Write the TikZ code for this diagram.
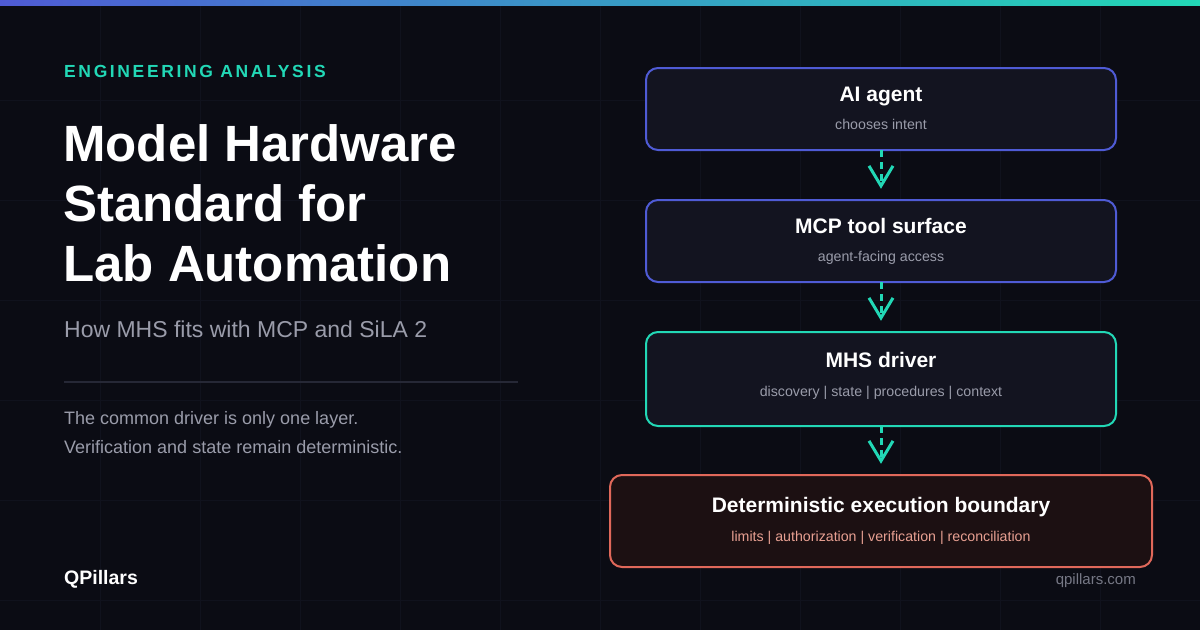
\documentclass[tikz,border=0pt]{standalone}
\usepackage{fontspec}
\setmainfont{Liberation Sans}
\usetikzlibrary{arrows.meta}
\definecolor{bg}{HTML}{0B0C14}
\definecolor{gridc}{HTML}{10121D}
\definecolor{blu}{HTML}{4F5BD5}
\definecolor{teal}{HTML}{22D8B6}
\definecolor{redb}{HTML}{E0685A}
\definecolor{boxf}{HTML}{131420}
\definecolor{redf}{HTML}{1C1012}
\definecolor{subg}{HTML}{9A9CAA}
\definecolor{redt}{HTML}{E8A092}
\definecolor{divc}{HTML}{262836}
\begin{document}
\begin{tikzpicture}[x=1pt,y=-1pt,
  every node/.style={inner sep=0pt},
  box/.style={draw,line width=2pt,rounded corners=12pt,fill=boxf},
  ttl/.style={text=white,font=\bfseries\fontsize{21}{24}\selectfont,anchor=base},
  sub/.style={text=subg,font=\fontsize{14.2}{17}\selectfont,anchor=base},
  flow/.style={draw=teal,line width=3pt,dash pattern=on 7pt off 5pt,shorten >=11pt,
    -{Straight Barb[length=20pt,width=24pt,line width=3pt]}}]
\useasboundingbox (0,0) rectangle (1200,630);
\fill[bg] (0,0) rectangle (1200,630);
\foreach \x in {100,200,...,1100} \draw[gridc,line width=1pt] (\x,0) -- (\x,630);
\foreach \y in {100,200,...,600} \draw[gridc,line width=1pt] (0,\y) -- (1200,\y);
\shade[left color=blu,right color=teal] (0,0) rectangle (1200,5);
% left text
\node[anchor=base west,text=teal,font=\bfseries\fontsize{17.5}{20}\selectfont\addfontfeature{LetterSpace=15}] (eyebrow) at (64,77) {ENGINEERING ANALYSIS};
\node[anchor=base west,text=white,font=\bfseries\fontsize{51}{60}\selectfont] (t1) at (63,161) {Model Hardware};
\node[anchor=base west,text=white,font=\bfseries\fontsize{51}{60}\selectfont] (t2) at (63,221) {Standard for};
\node[anchor=base west,text=white,font=\bfseries\fontsize{51}{60}\selectfont] (t3) at (63,281) {Lab Automation};
\node[anchor=base west,text=subg,font=\fontsize{23}{26}\selectfont] (st) at (64,337) {How MHS fits with MCP and SiLA 2};
\coordinate (d1) at (64,382); \coordinate (d2) at (518,382);
\draw[divc,line width=2pt] (d1) -- (d2);
\node[anchor=base west,text=subg,font=\fontsize{18}{22}\selectfont] (b1) at (64,424) {The common driver is only one layer.};
\node[anchor=base west,text=subg,font=\fontsize{18}{22}\selectfont] (b2) at (64,453) {Verification and state remain deterministic.};
\node[anchor=base west,text=white,font=\bfseries\fontsize{19.5}{22}\selectfont] (brand) at (64,584) {QPillars};
\node[anchor=base east,text=subg!75!bg,font=\fontsize{15}{18}\selectfont] (url) at (1136,584) {qpillars.com};
% boxes
\draw[box,draw=blu] (646,68) rectangle (1116,150);
\node[minimum width=470pt,minimum height=82pt] (a) at (881,109) {};
\node[ttl] at (881,101) {AI agent};
\node[sub] at (881,129) {chooses intent};
\draw[box,draw=blu] (646,200) rectangle (1116,282);
\node[minimum width=470pt,minimum height=82pt] (m) at (881,241) {};
\node[ttl] at (881,233) {MCP tool surface};
\node[sub] at (881,261) {agent-facing access};
\draw[box,draw=teal] (646,332) rectangle (1116,426);
\node[minimum width=470pt,minimum height=94pt] (h) at (881,379) {};
\node[ttl] at (881,367) {MHS driver};
\node[sub] at (881,396) {discovery | state | procedures | context};
\draw[box,draw=redb,fill=redf] (610,475) rectangle (1152,567);
\node[minimum width=542pt,minimum height=92pt] (d) at (881,521) {};
\node[ttl] at (881,512) {Deterministic execution boundary};
\node[sub,text=redt] at (881,541) {limits | authorization | verification | reconciliation};
% arrows
\draw[flow] (a.south) -- (m.north);
\draw[flow] (m.south) -- (h.north);
\draw[flow] (h.south) -- (d.north);
\end{tikzpicture}
\end{document}
